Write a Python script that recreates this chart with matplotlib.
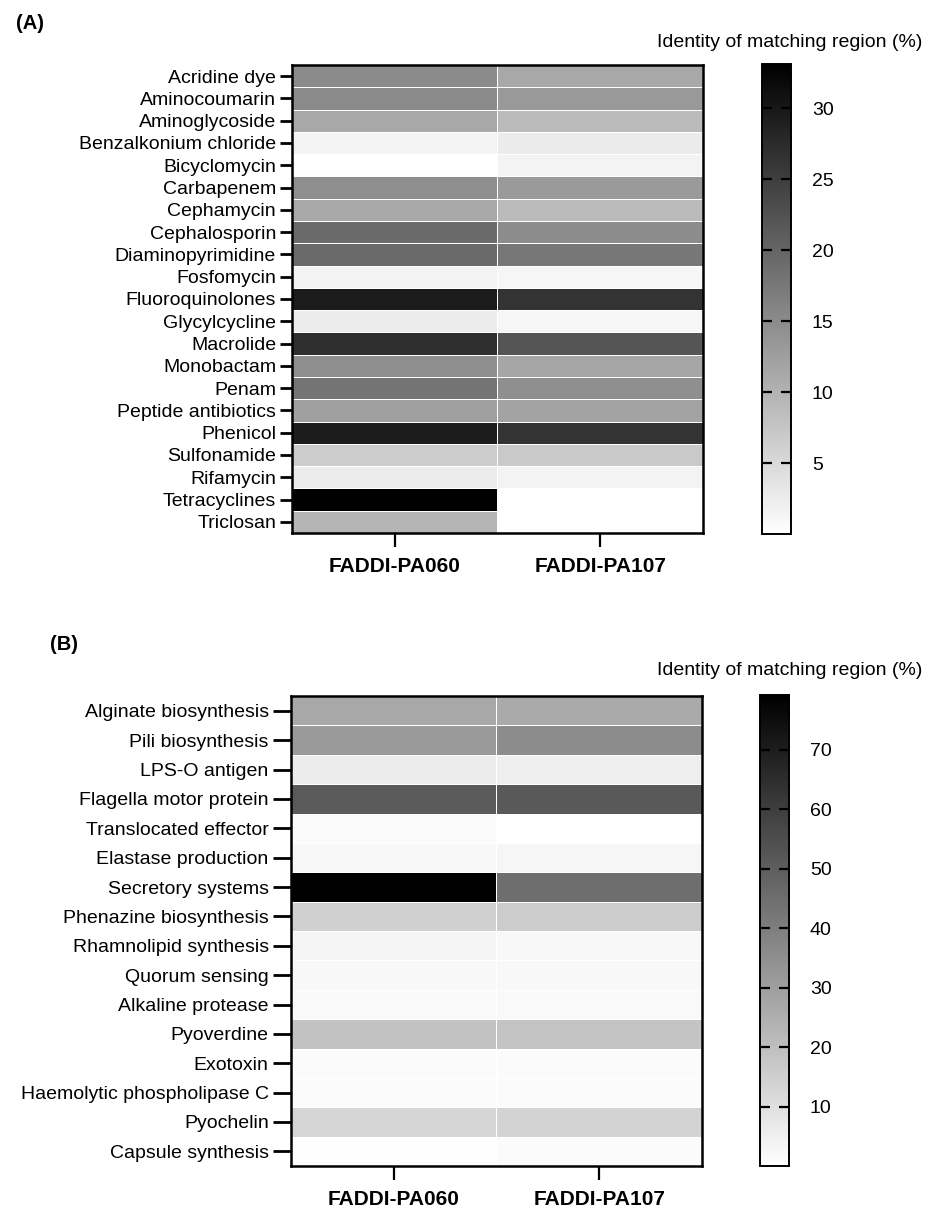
import matplotlib
matplotlib.use("Agg")
import matplotlib.pyplot as plt
import numpy as np
from matplotlib.colors import LinearSegmentedColormap

plt.rcParams['font.family'] = ['Liberation Sans', 'DejaVu Sans']

strains = ['FADDI-PA060', 'FADDI-PA107']

# (A) resistance classes, identity of matching region (%)
amr_classes = ['Acridine dye', 'Aminocoumarin', 'Aminoglycoside', 'Benzalkonium chloride',
               'Bicyclomycin', 'Carbapenem', 'Cephamycin', 'Cephalosporin',
               'Diaminopyrimidine', 'Fosfomycin', 'Fluoroquinolones', 'Glycylcycline',
               'Macrolide', 'Monobactam', 'Penam', 'Peptide antibiotics', 'Phenicol',
               'Sulfonamide', 'Rifamycin', 'Tetracyclines', 'Triclosan']
amr_pa060 = [15.1, 15.1, 11.3, 1.6, 0.0, 14.6, 11.3, 19.3, 19.3, 1.6, 29.6, 2.5,
             27.0, 14.6, 18.1, 12.3, 29.4, 6.6, 2.5, 33.0, 9.6]
amr_pa107 = [11.3, 13.3, 8.8, 2.6, 1.6, 13.1, 8.8, 14.9, 17.6, 1.2, 26.4, 1.2,
             22.0, 11.6, 14.6, 12.0, 26.4, 7.1, 1.6, np.nan, np.nan]
amr_ticks = [5, 10, 15, 20, 25, 30]

# (B) virulence factors
vir_classes = ['Alginate biosynthesis', 'Pili biosynthesis', 'LPS-O antigen',
               'Flagella motor protein', 'Translocated effector', 'Elastase production',
               'Secretory systems', 'Phenazine biosynthesis', 'Rhamnolipid synthesis',
               'Quorum sensing', 'Alkaline protease', 'Pyoverdine', 'Exotoxin',
               'Haemolytic phospholipase C', 'Pyochelin', 'Capsule synthesis']
vir_pa060 = [27.0, 31.3, 5.9, 51.1, 1.5, 2.2, 79.0, 14.6, 3.1, 2.2, 1.9, 18.9,
             1.5, 1.5, 13.0, 0.6]
vir_pa107 = [26.3, 35.6, 5.0, 51.4, 0.0, 2.8, 44.9, 15.8, 2.2, 2.2, 1.9, 18.3,
             1.5, 1.5, 13.9, 1.5]
vir_ticks = [10, 20, 30, 40, 50, 60, 70]

cmap = LinearSegmentedColormap.from_list('wb', ['#ffffff', '#000000'])

fig = plt.figure(figsize=(9.29, 12.14), dpi=100)


def heat(ax_pos, cax_pos, rows, a, b, vmax, ticks, ylen):
    ax = fig.add_axes(ax_pos)
    Z = np.ma.masked_invalid(np.column_stack([a, b]).astype(float))
    mesh = ax.pcolormesh(Z, cmap=cmap, vmin=0, vmax=vmax,
                         edgecolors='white', linewidth=0.6)
    ax.set_xlim(0, 2)
    ax.set_ylim(len(rows), 0)
    ax.set_yticks(np.arange(len(rows)) + 0.5, rows, fontsize=14)
    ax.set_xticks([0.5, 1.5], strains, fontsize=15, fontweight='bold')
    ax.tick_params(axis='y', length=ylen, width=2, pad=3)
    ax.tick_params(axis='x', length=10, width=1.6, pad=7)
    for s in ax.spines.values():
        s.set_linewidth(1.8)
    cax = fig.add_axes(cax_pos)
    cb = fig.colorbar(mesh, cax=cax, ticks=ticks)
    cb.outline.set_linewidth(1.4)
    cax.tick_params(direction='in', left=True, right=True, length=7,
                    width=1.6, labelsize=14, pad=15)
    return ax, cax


heat([0.3143, 0.5610, 0.4424, 0.3855], [0.8202, 0.5601, 0.0312, 0.3871],
     amr_classes, amr_pa060, amr_pa107, 33.1, amr_ticks, 8.5)
heat([0.3132, 0.0395, 0.4424, 0.3871], [0.8181, 0.0395, 0.0312, 0.3880],
     vir_classes, vir_pa060, vir_pa107, 79.2, vir_ticks, 13)

fig.text(0.017, 0.981, '(A)', fontsize=14.5, fontweight='bold', va='center')
fig.text(0.054, 0.4695, '(B)', fontsize=14.5, fontweight='bold', va='center')
fig.text(0.9925, 0.9654, 'Identity of matching region (%)', fontsize=14,
         ha='right', va='center')
fig.text(0.9925, 0.4481, 'Identity of matching region (%)', fontsize=14,
         ha='right', va='center')

fig.savefig('out.png', dpi=100)
